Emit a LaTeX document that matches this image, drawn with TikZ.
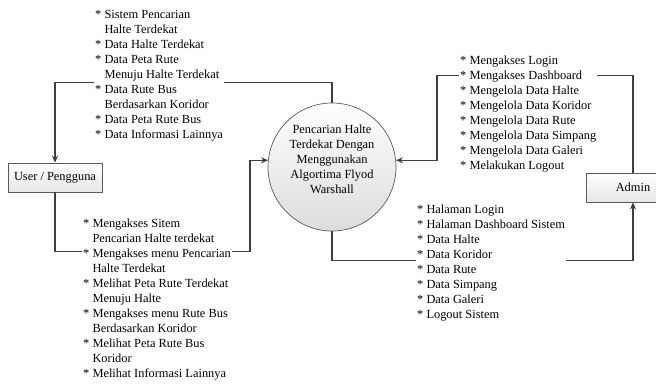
\documentclass[tikz,border=0pt]{standalone}
\usepackage{fontspec}
\setmainfont{Liberation Serif}
\usetikzlibrary{arrows.meta,calc}
\definecolor{dfdLine}{HTML}{3F3F3F}
\definecolor{dfdEdge}{HTML}{5A5A5A}
\definecolor{dfdShade}{HTML}{DCDCDC}
\newcommand{\dfdfont}{\fontsize{12.4bp}{15bp}\selectfont}
\newcommand{\dfdcont}{\hphantom{*}\ }
\tikzset{
  dfd flow/.style={
    draw=dfdLine,
    line width=1.1bp,
    -{Stealth[length=7bp,width=6bp]}
  },
  dfd entity/.style={
    draw=dfdEdge, line width=.7bp,
    top color=white, bottom color=dfdShade!70,
    minimum width=94bp, minimum height=29bp,
    font=\dfdfont
  },
  dfd process/.style={
    circle, draw=dfdEdge, line width=.7bp,
    top color=white, bottom color=dfdShade,
    minimum size=128bp, inner sep=0
  },
  dfd text/.style={font=\dfdfont, align=left, fill=white,
    inner sep=1bp, anchor=north west}
}

\begin{document}
\begin{tikzpicture}[x=1bp,y=-1bp]
  \useasboundingbox (0,0) rectangle (656,383);
  \clip (0,0) rectangle (656,383);

  % entities and process
  \node[dfd entity] (user) at (55,177.5) {User / Pengguna};
  \node[dfd entity] (admin) at (633,187.5) {Admin};
  \node[dfd process] (proc) at (332,167) {};
  \node[font=\dfdfont, align=center] (proctext) at ($(proc.center)+(0,-8)$)
    {Pencarian Halte\\Terdekat Dengan\\Menggunakan\\Algortima Flyod\\Warshall};

  % data flows
  \draw[dfd flow] (proc.north) -- ++(0,-20) -| (user.north);
  \draw[dfd flow] (user.south) -- ++(0,59) -- ++(195,0) |- (proc.174);
  \draw[dfd flow] (admin.north) -- ++(0,-97) -- ++(-196,0) |- (proc.6);
  \draw[dfd flow] (proc.south) -- ++(0,29) -| (admin.south);

  % flow labels
  \node[dfd text] (outuser) at (94,8.8) {%
    * Sistem Pencarian\\
    \dfdcont Halte Terdekat\\
    * Data Halte Terdekat\\
    * Data Peta Rute\\
    \dfdcont Menuju Halte Terdekat\\
    * Data Rute Bus\\
    \dfdcont Berdasarkan Koridor\\
    * Data Peta Rute Bus\\
    * Data Informasi Lainnya};
  \node[dfd text] (inuser) at (82,217.5) {%
    * Mengakses Sitem\\
    \dfdcont Pencarian Halte terdekat\\
    * Mengakses menu Pencarian\\
    \dfdcont Halte Terdekat\\
    * Melihat Peta Rute Terdekat\\
    \dfdcont Menuju Halte\\
    * Mengakses menu Rute Bus\\
    \dfdcont Berdasarkan Koridor\\
    * Melihat Peta Rute Bus\\
    \dfdcont Koridor\\
    * Melihat Informasi Lainnya};
  \node[dfd text] (inadmin) at (459,54.5) {%
    * Mengakses Login\\
    * Mengakses Dashboard\\
    * Mengelola Data Halte\\
    * Mengelola Data Koridor\\
    * Mengelola Data Rute\\
    * Mengelola Data Simpang\\
    * Mengelola Data Galeri\\
    * Melakukan Logout};
  \node[dfd text] (outadmin) at (416,203.5) {%
    * Halaman Login\\
    * Halaman Dashboard Sistem\\
    * Data Halte\\
    * Data Koridor\\
    * Data Rute\\
    * Data Simpang\\
    * Data Galeri\\
    * Logout Sistem};
\end{tikzpicture}
\end{document}
